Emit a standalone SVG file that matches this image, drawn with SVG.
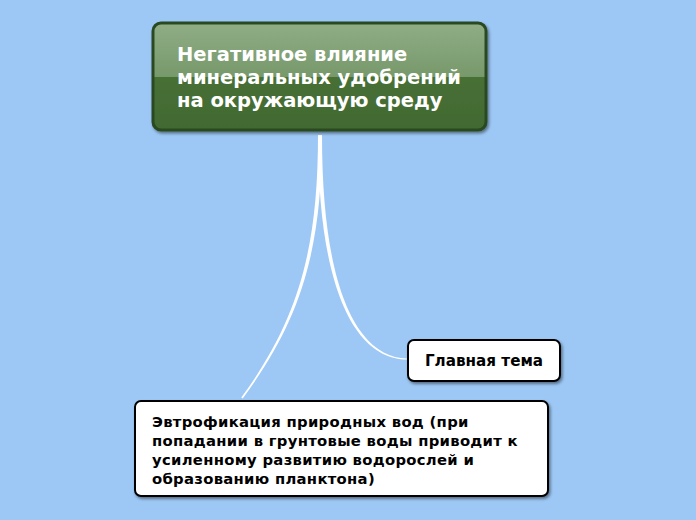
<svg xmlns="http://www.w3.org/2000/svg" width="696" height="520" viewBox="0 0 696 520">
<defs>
<linearGradient id="gloss" x1="0" y1="0" x2="0" y2="1">
<stop offset="0" stop-color="#90ad86"/>
<stop offset="0.5" stop-color="#77996b"/>
<stop offset="0.5" stop-color="#476f36"/>
<stop offset="1" stop-color="#416a31"/>
</linearGradient>
<filter id="sh" x="-10%" y="-10%" width="130%" height="140%">
<feDropShadow dx="1.5" dy="2" stdDeviation="1.5" flood-color="#000" flood-opacity="0.45"/>
</filter>
</defs>
<style>
.t{font-family:"DejaVu Sans","Liberation Sans",sans-serif;font-weight:bold}
.title{fill:#fff;font-size:19.5px}
.sub{fill:#000;font-size:14.8px;letter-spacing:0.3px}
.mt{fill:#000;font-size:15.2px}
.box{fill:#fff;stroke:#000;stroke-width:2}
.conn{fill:#fff;stroke:none}
</style>
<rect width="696" height="520" fill="#9dc8f5"/>
<g id="connectors">
<path class="conn" d="M318,135 C318,250 298,320 241.3,397.6 L242.7,398.4 C301,320 322,250 322,135 Z"/>
<path class="conn" d="M318,135 C318,300 360,359.5 407,359.5 L407,358.5 C362,357.5 322,300 322,135 Z"/>
</g>
<g id="root">
<rect x="153" y="23" width="333" height="107" rx="8" fill="url(#gloss)" stroke="#2b4a21" stroke-width="3" filter="url(#sh)"/>
<text class="t title" x="177" y="61">Негативное влияние</text>
<text class="t title" x="177" y="84">минеральных удобрений</text>
<text class="t title" x="177" y="107">на окружающую среду</text>
</g>
<g id="main-topic">
<rect class="box" x="408" y="340" width="152" height="41" rx="6" filter="url(#sh)"/>
<text class="t mt" x="484" y="366" text-anchor="middle">Главная тема</text>
</g>
<g id="eutrophication">
<rect class="box" x="135" y="401" width="413" height="95" rx="6" filter="url(#sh)"/>
<text class="t sub" x="152" y="427">Эвтрофикация природных вод (при</text>
<text class="t sub" x="152" y="446">попадании в грунтовые воды приводит к</text>
<text class="t sub" x="152" y="465">усиленному развитию водорослей и</text>
<text class="t sub" x="152" y="484">образованию планктона)</text>
</g>
</svg>
